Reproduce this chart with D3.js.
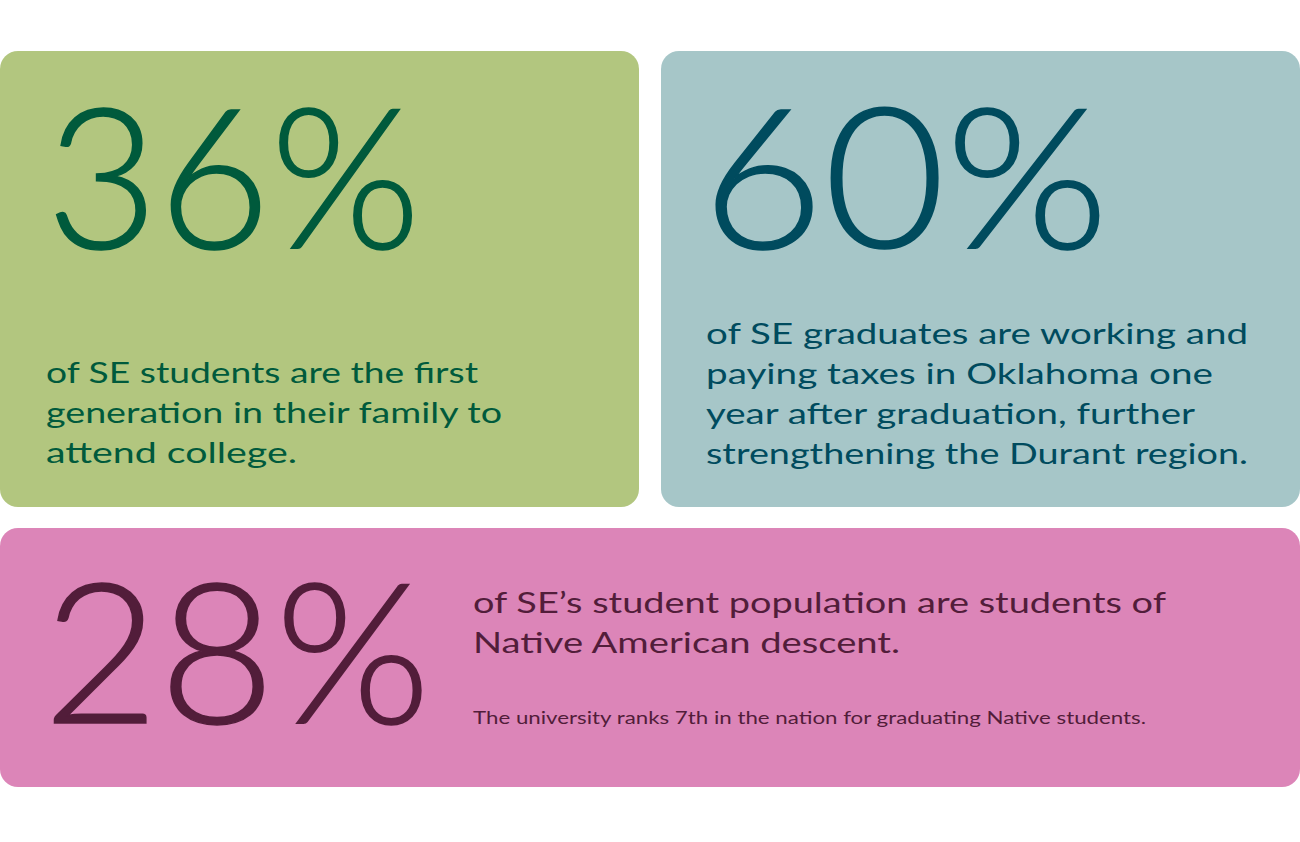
<!DOCTYPE html>
<html lang="en">

<head>
  <meta charset="UTF-8">
  <title>SE facts</title>
  <style>
    body { margin: 0; background: #fff; }
    svg { display: block; }
  </style>
</head>

<body>
  <svg></svg>
  <script src="https://cdn.jsdelivr.net/npm/d3@7"></script>
  <script>
    // data
    var percents = [36, 60, 28];
    var captions = [
      ["of SE students are the first", "generation in their family to", "attend college."],
      ["of SE graduates are working and", "paying taxes in Oklahoma one", "year after graduation, further", "strengthening the Durant region."],
      ["of SE\u2019s student population are students of", "Native American descent."]
    ];
    var notes = ["", "", "The university ranks 7th in the nation for graduating Native students."];
    var fills = ["#b2c67f", "#a6c6c8", "#dc85b8"];
    var inks = ["#005a3c", "#004b5e", "#521d3a"];

    var width = 1300, height = 842;
    var svg = d3.select("svg")
      .attr("width", width)
      .attr("height", height);

    // card boxes: two on top, one full-width below
    var boxes = [
      { x: 0, y: 51, w: 639, h: 456 },
      { x: 661, y: 51, w: 639, h: 456 },
      { x: 0, y: 528, w: 1300, h: 259 }
    ];
    // where the big number and captions sit inside each card
    var layout = [
      { numX: 46, numY: 248, numW: 375, capX: 46, capY: 383, noteY: 0 },
      { numX: 702, numY: 248, numW: 407, capX: 706, capY: 344, noteY: 0 },
      { numX: 43, numY: 723, numW: 388, capX: 473, capY: 613, noteY: 724 }
    ];
    // measured line widths in the picture (the font there is wider than Lato)
    var lineW = [
      [432, 456, 251],
      [542, 507, 489, 542],
      [693, 427]
    ];
    var lineH = 40;
    var font = "Lato, 'Open Sans', sans-serif";

    var cards = svg.selectAll("g.card")
      .data(percents)
      .join("g")
      .attr("class", "card");

    cards.append("rect")
      .attr("x", (d, i) => boxes[i].x)
      .attr("y", (d, i) => boxes[i].y)
      .attr("width", (d, i) => boxes[i].w)
      .attr("height", (d, i) => boxes[i].h)
      .attr("rx", 18)
      .attr("fill", (d, i) => fills[i]);

    var fmt = d => d + "%";

    // big number
    cards.append("text")
      .attr("class", "num")
      .attr("x", (d, i) => layout[i].numX)
      .attr("y", (d, i) => layout[i].numY)
      .attr("font-family", font)
      .attr("font-weight", 300)
      .attr("font-size", 196)
      .attr("fill", (d, i) => inks[i])
      .attr("stroke", (d, i) => inks[i])
      .attr("stroke-width", 1.5)
      .attr("textLength", (d, i) => layout[i].numW)
      .attr("lengthAdjust", "spacingAndGlyphs")
      .text(fmt);

    // captions, one text per line
    cards.each(function(d, i) {
      d3.select(this).selectAll("text.cap")
        .data(captions[i])
        .join("text")
        .attr("class", "cap")
        .attr("x", layout[i].capX)
        .attr("y", (s, j) => layout[i].capY + j * lineH)
        .attr("font-family", font)
        .attr("font-size", 29)
        .attr("fill", inks[i])
        .attr("textLength", (s, j) => lineW[i][j])
        .attr("lengthAdjust", "spacingAndGlyphs")
        .text(s => s);

      if (notes[i]) {
        d3.select(this).append("text")
          .attr("x", layout[i].capX)
          .attr("y", layout[i].noteY)
          .attr("font-family", font)
          .attr("font-size", 17)
          .attr("fill", inks[i])
          .attr("textLength", 673)
          .attr("lengthAdjust", "spacingAndGlyphs")
          .text(notes[i]);
      }
    });
  </script>
</body>

</html>
